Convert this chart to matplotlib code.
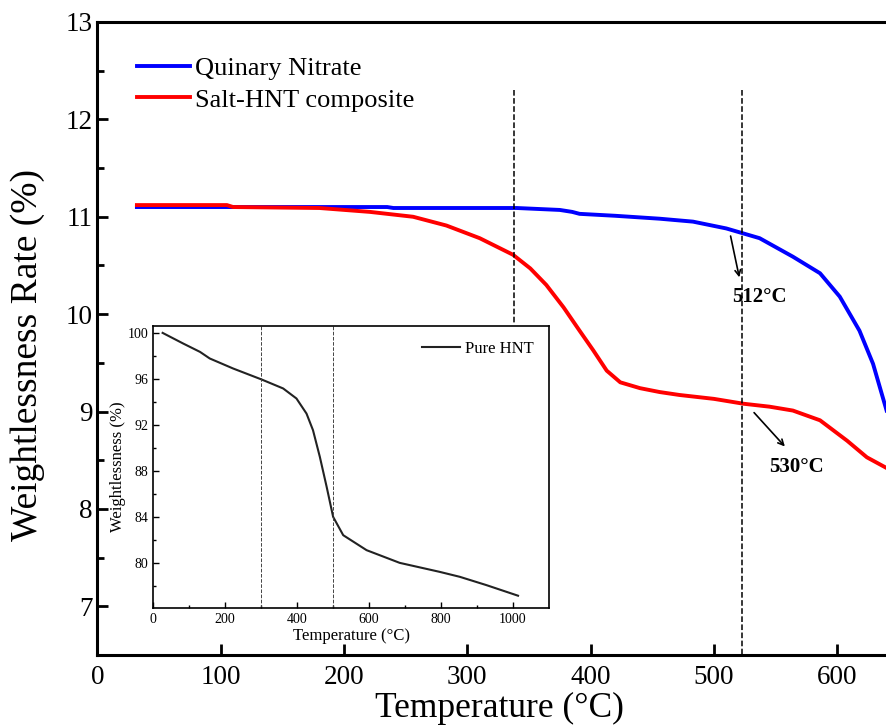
import numpy as np
import matplotlib
matplotlib.use("Agg")
import matplotlib.pyplot as plt

plt.rcParams['font.family'] = ['Liberation Serif', 'DejaVu Serif']

# main chart data
t_qn = [32, 100, 200, 235, 240, 300, 340, 375, 385, 391, 420, 456, 483, 510, 537, 564,
        586, 602, 618, 629, 640]
w_qn = [11.10, 11.10, 11.10, 11.10, 11.09, 11.09, 11.09, 11.07, 11.05, 11.03, 11.01, 10.98,
        10.95, 10.88, 10.78, 10.59, 10.42, 10.18, 9.83, 9.49, 9.01]

t_shc = [32, 105, 110, 180, 221, 256, 283, 310, 337, 351, 364, 378, 391, 402, 413, 424,
         440, 456, 472, 500, 524, 545, 564, 586, 608, 624, 640]
w_shc = [11.12, 11.12, 11.10, 11.09, 11.05, 11.00, 10.91, 10.78, 10.61, 10.47, 10.30, 10.07,
         9.83, 9.63, 9.42, 9.30, 9.24, 9.20, 9.17, 9.13, 9.08, 9.05, 9.01, 8.91, 8.70, 8.53, 8.42]

vlines_main = [338, 523]

# inset: pure HNT
t_hnt = [26, 83, 130, 157, 222, 301, 361, 398, 426, 444, 463, 482, 500, 528, 593, 685,
         796, 852, 926, 1014]
w_hnt = [100, 99.08, 98.35, 97.78, 96.91, 95.96, 95.18, 94.31, 93.0, 91.56, 89.25, 86.64,
         84.04, 82.45, 81.15, 80.05, 79.27, 78.84, 78.12, 77.2]
vlines_inset = [300, 500]

fig = plt.figure(figsize=(8.86, 7.26), dpi=100)
ax = fig.add_axes([0.110, 0.0978, 0.9046, 0.8719])

ax.plot(t_qn, w_qn, color='#0000ff', lw=2.8, label='Quinary Nitrate')
ax.plot(t_shc, w_shc, color='#ff0000', lw=2.8, label='Salt-HNT composite')
ax.plot([vlines_main[0]] * 2, [12.3, 9.9], color='k', ls='--', lw=1.1)
ax.plot([vlines_main[1]] * 2, [12.3, 6.5], color='k', ls='--', lw=1.1)

ax.annotate('', xy=(521, 10.35), xytext=(513, 10.83),
            arrowprops=dict(arrowstyle='->', color='k', lw=1.2))
ax.text(515, 10.18, '512°C', fontsize=15, fontweight='bold', va='center', ha='left')
ax.annotate('', xy=(559, 8.62), xytext=(531, 9.01),
            arrowprops=dict(arrowstyle='->', color='k', lw=1.2))
ax.text(545, 8.43, '530°C', fontsize=15, fontweight='bold', va='center', ha='left')

ax.set_xlim(0, 650)
ax.set_ylim(6.5, 13)
ax.set_xticks(np.arange(0, 700, 100))
ax.set_yticks(np.arange(7, 14, 1))
ax.set_yticks(np.arange(7.5, 13, 1), minor=True)
ax.tick_params(which='major', direction='in', length=8, width=2, labelsize=19.5)
ax.tick_params(axis='x', pad=7)
ax.tick_params(which='minor', direction='in', length=5, width=2)
for s in ax.spines.values():
    s.set_linewidth(2.2)
ax.set_xlabel('Temperature (°C)', fontsize=25.5)
ax.xaxis.set_label_coords(0.501, -0.059)
ax.set_ylabel('Weightlessness Rate (%)', fontsize=27)
ax.yaxis.set_label_coords(-0.066, 0.474)
ax.legend(loc='upper left', bbox_to_anchor=(0.049, 0.945), frameon=False,
          fontsize=19, handlelength=2.0, handletextpad=0.2, labelspacing=0.3,
          borderpad=0, borderaxespad=0)

# inset
ins = fig.add_axes([0.173, 0.162, 0.4466, 0.389])
ins.set_facecolor('white')
ins.plot(t_hnt, w_hnt, color='#222222', lw=1.5, label='Pure HNT')
for v in vlines_inset:
    ins.axvline(v, color='#444444', ls='--', lw=0.7)
ins.set_xlim(0, 1100)
ins.set_ylim(76.1, 100.6)
ins.set_xticks(np.arange(0, 1100, 200))
ins.set_xticks(np.arange(100, 1100, 200), minor=True)
ins.set_yticks(np.arange(80, 101, 4))
ins.set_yticks(np.arange(78, 101, 4), minor=True)
ins.tick_params(which='major', direction='in', length=4, width=1, labelsize=10)
ins.tick_params(which='minor', direction='in', length=2.5, width=1)
for s in ins.spines.values():
    s.set_linewidth(1.2)
ins.set_xlabel('Temperature (°C)', fontsize=12, labelpad=1)
ins.set_ylabel('Weightlessness (%)', fontsize=12, labelpad=1)
ins.legend(loc='upper right', frameon=False, fontsize=12, handlelength=2.3,
           handletextpad=0.3)

fig.savefig('out.png', dpi=100)
